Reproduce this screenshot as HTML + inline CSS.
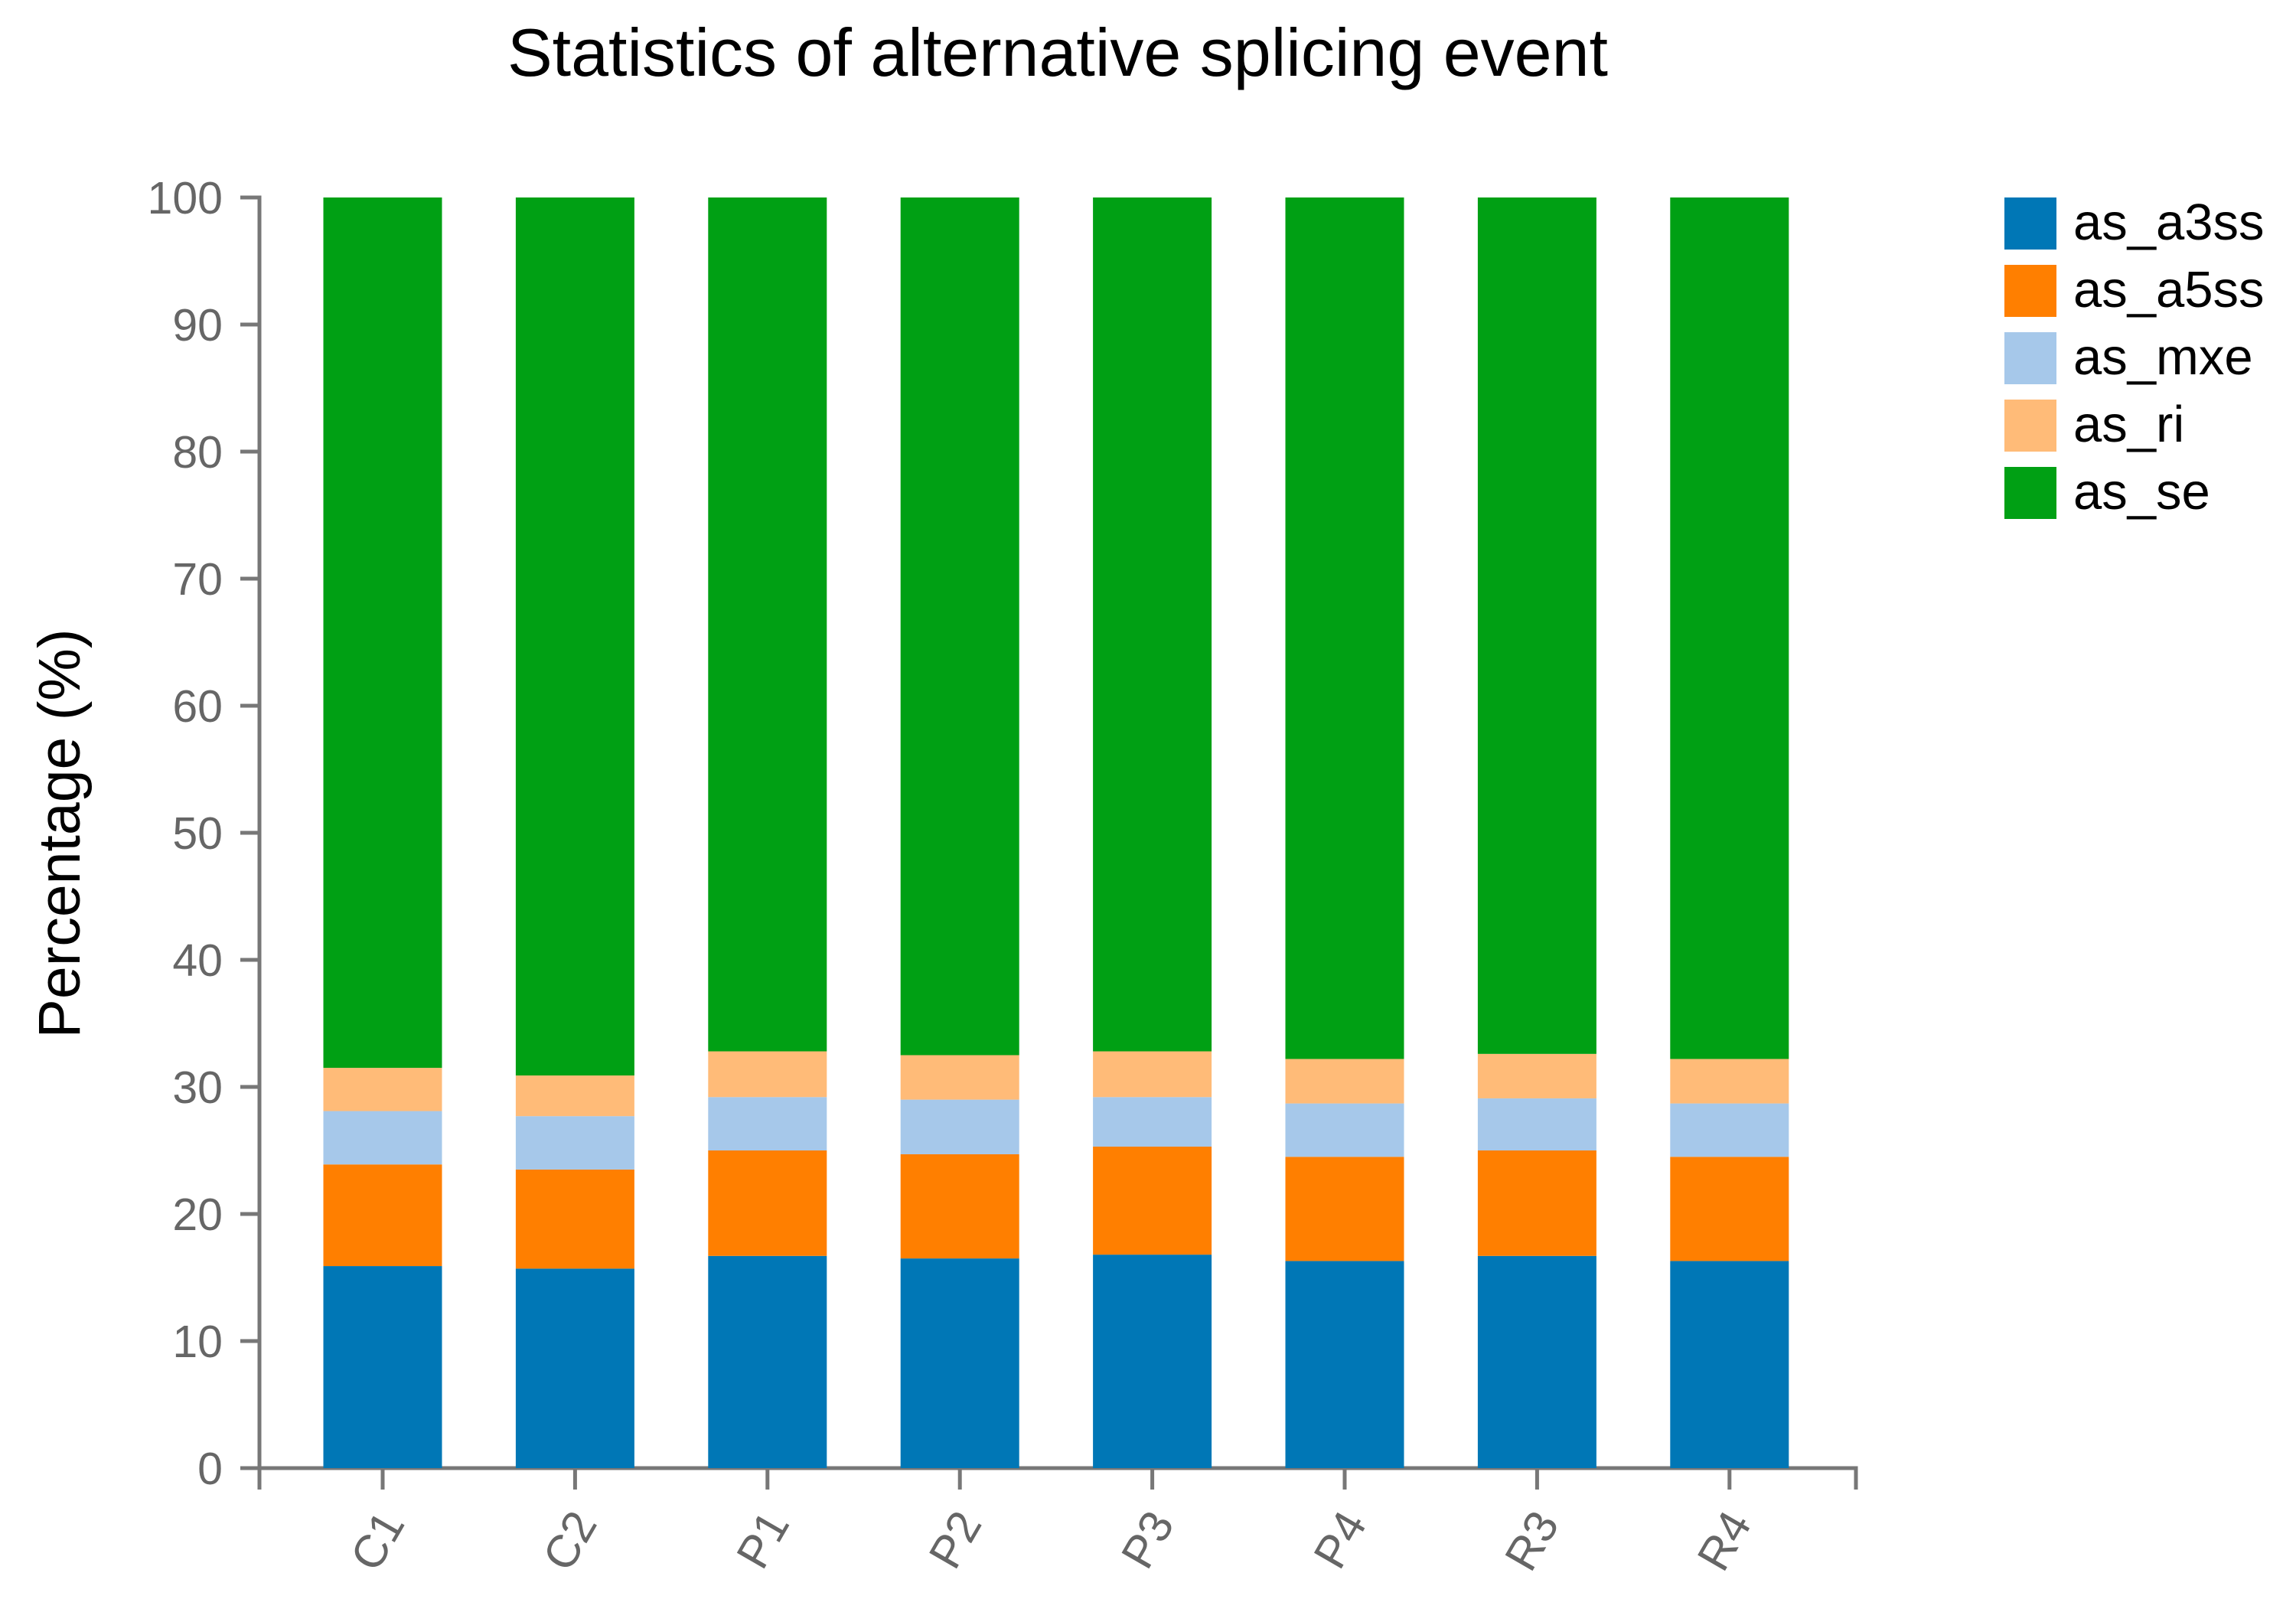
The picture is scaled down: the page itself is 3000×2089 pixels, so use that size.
<!DOCTYPE html>
<html><head><meta charset="utf-8"><style>
body{margin:0;background:#fff}
svg{display:block;font-family:"Liberation Sans",sans-serif}
</style></head><body>
<svg id="chart" width="3000" height="2089" viewBox="0 0 3000 2089" xmlns="http://www.w3.org/2000/svg">
<text x="1382" y="99" font-size="88" text-anchor="middle" fill="#000">Statistics of alternative splicing event</text>
<text transform="translate(104,1089) rotate(-90)" font-size="77" text-anchor="middle" fill="#000">Percentage (%)</text>
<g id="axes"></g><g id="bars"></g><g id="legend"></g>
</svg>
<script>
const categories = ["C1","C2","P1","P2","P3","P4","R3","R4"];
const seriesNames = ["as_a3ss","as_a5ss","as_mxe","as_ri","as_se"];
const a3ss = [15.9,15.7,16.7,16.5,16.8,16.3,16.7,16.3];
const a5ss = [8.0,7.8,8.3,8.2,8.5,8.2,8.3,8.2];
const mxe = [4.2,4.2,4.2,4.3,3.9,4.2,4.1,4.2];
const ri = [3.4,3.2,3.6,3.5,3.6,3.5,3.5,3.5];
const se = [68.5,69.1,67.2,67.5,67.2,67.8,67.4,67.8];
const yTicks = [0,10,20,30,40,50,60,70,80,90,100];
const colors = ["#0077b6","#ff7f00","#a6c8ea","#ffbb78","#00a014"];
const series = [a3ss,a5ss,mxe,ri,se];
const NS="http://www.w3.org/2000/svg";
const X0=339, X1=2425, Y0=1918, Y100=258, first=500, step=251.4, bw=155;
const y = v => Y0 - (v/100)*(Y0-Y100);
const x = i => first + i*step;
function mk(tag, attrs, parent){const e=document.createElementNS(NS,tag);for(const k in attrs)e.setAttribute(k,attrs[k]);parent.appendChild(e);return e;}
const axes=document.getElementById('axes'), bars=document.getElementById('bars'), legend=document.getElementById('legend');
const ax=mk('path',{d:`M${X0-25},${Y100}H${X0}V${Y0}H${X1}V${Y0+28}M${X0},${Y0}V${Y0+28}`,fill:'none',stroke:'#777','stroke-width':5},axes);


yTicks.forEach(t=>{
  const l=mk('line',{x1:X0-25,x2:X0,y1:y(t),y2:y(t),stroke:'#777','stroke-width':5},axes);
  
  
  const tx=mk('text',{x:X0-48,y:y(t)+21,'font-size':59,'text-anchor':'end',fill:'#666'},axes);
  
  
  tx.textContent=t;
});
categories.forEach((c,i)=>{
  const l=mk('line',{x1:x(i),x2:x(i),y1:Y0,y2:Y0+28,stroke:'#777','stroke-width':5},axes);
  
  
  const tx=mk('text',{transform:`translate(${x(i)+30},${Y0+72}) rotate(-60)`,'font-size':60,'text-anchor':'end',fill:'#666'},axes);
  
  
  tx.textContent=c;
  let cum=0;
  series.forEach((s,k)=>{
    const v=(k===4)?(100-cum):s[i];
    const r=mk('rect',{x:x(i)-bw/2,y:y(cum+v),width:bw,height:y(cum)-y(cum+v),fill:colors[k]},bars);
    
    
    cum+=v;
  });
});
seriesNames.forEach((n,k)=>{
  const r=mk('rect',{x:2619,y:258+k*88,width:68,height:68,fill:colors[k]},legend);
  
  
  const t=mk('text',{x:2709,y:258+k*88+55,'font-size':67,fill:'#000'},legend);
  
  
  t.textContent=n;
});
</script>
</body></html>
